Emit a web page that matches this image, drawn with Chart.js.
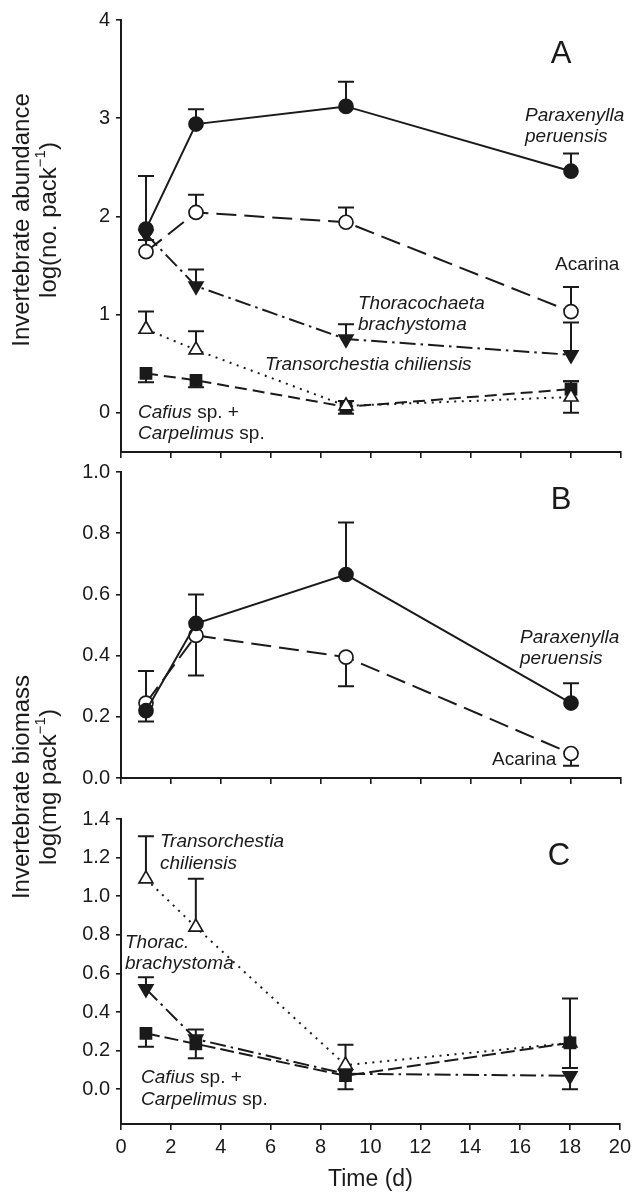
<!DOCTYPE html>
<html><head><meta charset="utf-8">
<script src="https://cdn.jsdelivr.net/npm/chart.js@4.4.0/dist/chart.umd.min.js"></script>
<style>
html,body{margin:0;padding:0;background:#fff;}
#wrap{position:relative;width:636px;height:1193px;}
#wrap canvas{position:absolute;left:0;top:0;}
</style></head><body>
<div id="wrap">
<canvas id="cC" width="636" height="1193" style="width:636px;height:1193px"></canvas>
<canvas id="cB" width="636" height="1193" style="width:636px;height:1193px"></canvas>
<canvas id="cA" width="636" height="1193" style="width:636px;height:1193px"></canvas>
</div>
<script>
// ---------- data ----------
const days = [1, 3, 9, 18];
const xTickValues = [0, 2, 4, 6, 8, 10, 12, 14, 16, 18, 20];

// Panel A: abundance log(no. pack-1)
const aYTicks = [0, 1, 2, 3, 4];
const aPara   = [1.87, 2.94, 3.12, 2.46];
const aParaHi = [2.41, 3.09, 3.37, 2.64];
const aParaLo = [null, null, null, null];
const aAcar   = [1.64, 2.04, 1.94, 1.03];
const aAcarHi = [1.76, 2.22, 2.09, 1.28];
const aAcarLo = [null, null, null, null];
const aThor   = [1.82, 1.29, 0.75, 0.59];
const aThorHi = [null, 1.46, 0.90, 0.92];
const aThorLo = [null, null, null, null];
const aTran   = [0.85, 0.64, 0.07, 0.16];
const aTranHi = [1.03, 0.83, null, 0.32];
const aTranLo = [null, null, null, 0.00];
const aCafi   = [0.40, 0.33, 0.06, 0.24];
const aCafiHi = [null, null, 0.12, 0.32];
const aCafiLo = [0.31, 0.26, -0.01, null];

// Panel B: biomass log(mg pack-1)
const bYTicks = [0, 0.2, 0.4, 0.6, 0.8, 1.0];
const bPara   = [0.22, 0.505, 0.665, 0.245];
const bParaHi = [null, 0.60, 0.835, 0.31];
const bParaLo = [0.185, null, null, null];
const bAcar   = [0.245, 0.466, 0.395, 0.08];
const bAcarHi = [0.35, null, null, null];
const bAcarLo = [null, 0.335, 0.30, 0.04];

// Panel C: biomass log(mg pack-1)
const cYTicks = [0, 0.2, 0.4, 0.6, 0.8, 1.0, 1.2, 1.4];
const cTran   = [1.09, 0.84, 0.125, 0.24];
const cTranHi = [1.31, 1.09, 0.23, null];
const cTranLo = [null, null, null, null];
const cThor   = [0.52, 0.26, 0.08, 0.07];
const cThorHi = [0.58, null, null, null];
const cThorLo = [null, null, null, 0.00];
const cCafi   = [0.29, 0.235, 0.07, 0.24];
const cCafiHi = [null, 0.31, null, 0.47];
const cCafiLo = [0.22, 0.16, 0.00, 0.11];

// ---------- styles ----------
const FONT = '"Liberation Sans", Arial, Helvetica, sans-serif';
const INK = '#1a1a1a';
const STY = {
  para: {dash: [], ps: 'circle', fill: INK, r: 7, rot: 0},
  acar: {dash: [20, 8], ps: 'circle', fill: '#fff', r: 7, rot: 0},
  thor: {dash: [16, 5, 2.5, 5], ps: 'triangle', fill: INK, r: 8, rot: 180},
  tran: {dash: [2, 5.5], ps: 'triangle', fill: '#fff', r: 8, rot: 0},
  cafi: {dash: [12, 6], ps: 'rect', fill: INK, r: 7.8, rot: 0}
};

function series(vals, hi, lo, st) {
  return {
    data: days.map((d, i) => ({x: d, y: vals[i]})),
    errHi: hi, errLo: lo,
    borderColor: INK, borderWidth: 2, borderDash: st.dash,
    tension: 0, fill: false,
    pointStyle: st.ps, pointRadius: st.r, pointHoverRadius: st.r,
    pointRotation: st.rot, pointBackgroundColor: st.fill,
    pointBorderColor: INK, pointBorderWidth: 1.7
  };
}

function fontFor(seg, size) {
  return (seg.i ? 'italic ' : '') + (seg.s ? Math.round(size * 0.62) : size) + 'px ' + FONT;
}
function drawSegs(ctx, segs, x, y, size, align) {
  const w = segs.map(s => { ctx.font = fontFor(s, size); return ctx.measureText(s.t).width; });
  const total = w.reduce((a, b) => a + b, 0);
  let cx = align === 'center' ? x - total / 2 : (align === 'right' ? x - total : x);
  ctx.textAlign = 'left';
  ctx.textBaseline = 'middle';
  segs.forEach((s, k) => {
    ctx.font = fontFor(s, size);
    ctx.fillText(s.t, cx, s.s ? y - size * 0.36 : y);
    cx += w[k];
  });
}

const errorBars = {
  id: 'errorBars',
  beforeDatasetsDraw(chart) {
    const ctx = chart.ctx, xs = chart.scales.x, ys = chart.scales.y;
    ctx.save();
    ctx.strokeStyle = INK; ctx.lineWidth = 2; ctx.setLineDash([]);
    chart.data.datasets.forEach(ds => {
      ds.data.forEach((p, i) => {
        const px = xs.getPixelForValue(p.x), py = ys.getPixelForValue(p.y);
        [ds.errHi, ds.errLo].forEach(arr => {
          if (!arr || arr[i] === null || arr[i] === undefined) return;
          const ey = ys.getPixelForValue(arr[i]);
          ctx.beginPath();
          ctx.moveTo(px, py); ctx.lineTo(px, ey);
          ctx.moveTo(px - 8, ey); ctx.lineTo(px + 8, ey);
          ctx.stroke();
        });
      });
    });
    ctx.restore();
  }
};

const textLayer = {
  id: 'textLayer',
  afterDraw(chart, args, opts) {
    const ctx = chart.ctx, xs = chart.scales.x, ys = chart.scales.y;
    ctx.save();
    ctx.fillStyle = INK;
    (opts.notes || []).forEach(n => {
      drawSegs(ctx, n.segs, xs.getPixelForValue(n.x), ys.getPixelForValue(n.y), n.size || 19, n.align || 'left');
    });
    if (opts.letter) {
      drawSegs(ctx, [{t: opts.letter.t}], xs.getPixelForValue(opts.letter.x), ys.getPixelForValue(opts.letter.y), 31, 'center');
    }
    if (opts.ytitle) {
      const t = opts.ytitle;
      ctx.translate(t.cx, t.cy);
      ctx.rotate(-Math.PI / 2);
      t.lines.forEach(l => drawSegs(ctx, l.segs, 0, l.dx, 24, 'center'));
    }
    ctx.restore();
  }
};

function makeChart(id, cfg) {
  const xScale = {
    type: 'linear', min: 0, max: 20,
    afterBuildTicks: s => { s.ticks = xTickValues.map(v => ({value: v})); },
    afterFit: s => { s.height = cfg.xh; },
    grid: {drawOnChartArea: false, drawTicks: true, tickLength: 6, color: INK, lineWidth: 1.6},
    border: {display: true, color: INK, width: 2},
    ticks: {display: cfg.xlabels, color: INK, padding: 5, maxRotation: 0,
            font: {family: FONT, size: 20}},
    title: {display: cfg.xlabels, text: 'Time (d)', color: INK, padding: {top: 0, bottom: 0},
            font: {family: FONT, size: 23}}
  };
  const yScale = {
    type: 'linear', min: cfg.ymin, max: cfg.ymax,
    afterBuildTicks: s => { s.ticks = cfg.yticks.map(v => ({value: v})); },
    afterFit: s => { s.width = 121; },
    grid: {drawOnChartArea: false, drawTicks: true, tickLength: 5, color: INK, lineWidth: 1.6},
    border: {display: true, color: INK, width: 2},
    ticks: {color: INK, padding: 6, font: {family: FONT, size: 20},
            callback: v => cfg.ydec ? Number(v).toFixed(1) : String(v)}
  };
  return new Chart(document.getElementById(id), {
    type: 'line',
    data: {datasets: cfg.datasets},
    options: {
      responsive: false, animation: false, devicePixelRatio: 1,
      layout: {padding: {top: cfg.top, bottom: cfg.bottom, left: 0, right: 15}},
      scales: {x: xScale, y: yScale},
      plugins: {legend: {display: false}, tooltip: {enabled: false},
                textLayer: cfg.text},
      events: []
    },
    plugins: [errorBars, textLayer]
  });
}

// ---------- Panel A ----------
makeChart('cA', {
  top: 20, bottom: 731, xh: 10, xlabels: false,
  ymin: -0.4, ymax: 4, yticks: aYTicks, ydec: false,
  datasets: [
    series(aPara, aParaHi, aParaLo, STY.para),
    series(aAcar, aAcarHi, aAcarLo, STY.acar),
    series(aThor, aThorHi, aThorLo, STY.thor),
    series(aTran, aTranHi, aTranLo, STY.tran),
    series(aCafi, aCafiHi, aCafiLo, STY.cafi)
  ],
  text: {
    letter: {t: 'A', x: 17.6, y: 3.65},
    notes: [
      {x: 16.16, y: 3.02, segs: [{t: 'Paraxenylla', i: 1}]},
      {x: 16.16, y: 2.81, segs: [{t: 'peruensis', i: 1}]},
      {x: 17.36, y: 1.51, segs: [{t: 'Acarina'}]},
      {x: 9.48, y: 1.11, segs: [{t: 'Thoracochaeta', i: 1}]},
      {x: 9.48, y: 0.90, segs: [{t: 'brachystoma', i: 1}]},
      {x: 5.76, y: 0.49, segs: [{t: 'Transorchestia chiliensis', i: 1}]},
      {x: 0.68, y: 0.00, segs: [{t: 'Cafius', i: 1}, {t: ' sp. +'}]},
      {x: 0.68, y: -0.21, segs: [{t: 'Carpelimus', i: 1}, {t: ' sp.'}]}
    ],
    ytitle: {cx: 0, cy: 220, lines: [
      {dx: 22, segs: [{t: 'Invertebrate abundance'}]},
      {dx: 49, segs: [{t: 'log(no. pack'}, {t: '\u22121', s: 1}, {t: ')'}]}
    ]}
  }
});

// ---------- Panel B ----------
makeChart('cB', {
  top: 472, bottom: 405, xh: 10, xlabels: false,
  ymin: 0, ymax: 1.0, yticks: bYTicks, ydec: true,
  datasets: [
    series(bPara, bParaHi, bParaLo, STY.para),
    series(bAcar, bAcarHi, bAcarLo, STY.acar)
  ],
  text: {
    letter: {t: 'B', x: 17.6, y: 0.907},
    notes: [
      {x: 15.96, y: 0.46, segs: [{t: 'Paraxenylla', i: 1}]},
      {x: 15.96, y: 0.39, segs: [{t: 'peruensis', i: 1}]},
      {x: 14.84, y: 0.06, segs: [{t: 'Acarina'}]}
    ],
    ytitle: {cx: 0, cy: 787, lines: [
      {dx: 22, segs: [{t: 'Invertebrate biomass'}]},
      {dx: 49, segs: [{t: 'log(mg pack'}, {t: '\u22121', s: 1}, {t: ')'}]}
    ]}
  }
});

// ---------- Panel C ----------
makeChart('cC', {
  top: 819, bottom: 0, xh: 69, xlabels: true,
  ymin: -0.18, ymax: 1.4, yticks: cYTicks, ydec: true,
  datasets: [
    series(cCafi, cCafiHi, cCafiLo, Object.assign({}, STY.cafi, {dash: [14, 5]})),
    series(cThor, cThorHi, cThorLo, STY.thor),
    series(cTran, cTranHi, cTranLo, STY.tran)
  ],
  text: {
    letter: {t: 'C', x: 17.56, y: 1.207},
    notes: [
      {x: 1.56, y: 1.28, segs: [{t: 'Transorchestia', i: 1}]},
      {x: 1.56, y: 1.17, segs: [{t: 'chiliensis', i: 1}]},
      {x: 0.16, y: 0.76, segs: [{t: 'Thorac.', i: 1}]},
      {x: 0.16, y: 0.65, segs: [{t: 'brachystoma', i: 1}]},
      {x: 0.80, y: 0.062, segs: [{t: 'Cafius', i: 1}, {t: ' sp. +'}]},
      {x: 0.80, y: -0.052, segs: [{t: 'Carpelimus', i: 1}, {t: ' sp.'}]}
    ]
  }
});
</script>
</body></html>
